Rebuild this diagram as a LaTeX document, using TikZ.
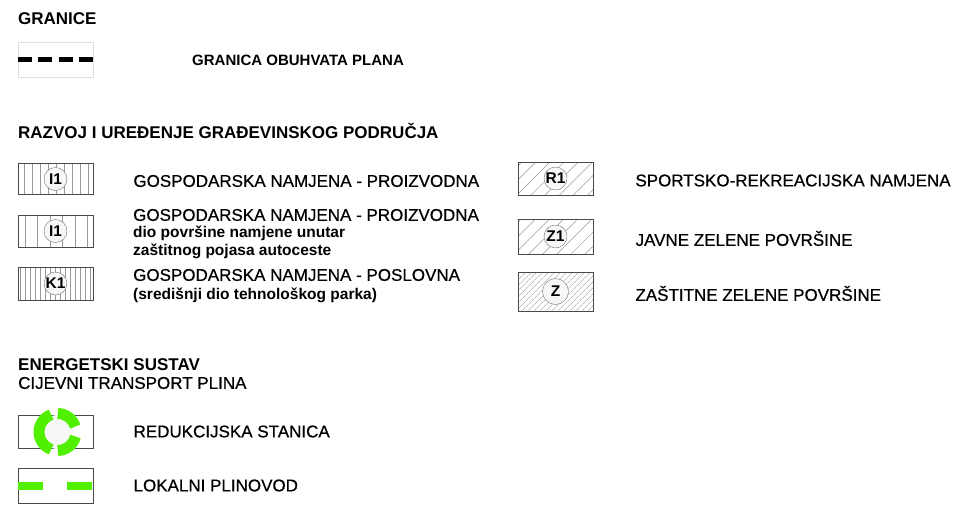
\documentclass[tikz,border=0pt]{standalone}
\usepackage{fontspec}
\setmainfont{Liberation Sans}
\newfontfamily\teski{Liberation Sans}[FakeBold=0.6]
\usepackage{tikz}
\usetikzlibrary{patterns.meta,positioning}
\definecolor{plin}{HTML}{50F000}
\definecolor{rub}{HTML}{4A4A4A}

\begin{document}
\begin{tikzpicture}[x=1pt,y=-1pt,
    box/.style={draw=rub,line width=0.8pt,minimum width=75pt,minimum height=31pt,inner sep=0pt},
    vert/.style={box,pattern={Lines[angle=90,distance=#1,line width=0.5pt]},pattern color=black!40},
    kos/.style={box,pattern={Lines[angle=45,distance=#1,line width=0.5pt]},pattern color=black!40},
    oznaka/.style={circle,draw=black!55,fill=black!3,minimum size=23pt,inner sep=0pt,
                   font=\bfseries\fontsize{15.5}{15.5}\selectfont},
    naslov/.style={anchor=west,inner sep=0pt,font=\bfseries\fontsize{17}{17}\selectfont},
    opis/.style={anchor=west,inner sep=0pt,font=\teski\fontsize{17}{17}\selectfont},
    opisb/.style={anchor=west,inner sep=0pt,font=\bfseries\fontsize{15.5}{15.5}\selectfont}
  ]
    \useasboundingbox (0,0) rectangle (968,514);
    % granice
    \node[naslov] (h-gr) at (18,19) {GRANICE};
    \node[box,draw=black!12,minimum height=35pt] (gr) at (55.5,59.5) {};
    \draw[line width=5pt,dash pattern=on 14pt off 6.5pt] (gr.west) -- (gr.east);
    \node[naslov,font=\bfseries\fontsize{15}{15}\selectfont] (t-gr) at (192,60) {GRANICA OBUHVATA PLANA};
    % gradjevinsko podrucje
    \node[naslov] (h-raz) at (18,131) {RAZVOJ I UREĐENJE GRAĐEVINSKOG PODRUČJA};
    \node[vert=8pt] (i1a) at (55.5,179) {};
    \node[oznaka] (o-i1a) at (i1a) {I1};
    \node[opis,right=40pt of i1a.east,yshift=-2pt] (t-i1a) {GOSPODARSKA NAMJENA - PROIZVODNA};
    \node[vert=12.5pt,minimum height=32pt] (i1b) at (55.5,231) {};
    \node[oznaka] (o-i1b) at (i1b) {I1};
    \node[opis] (t-i1b) at (133,215) {GOSPODARSKA NAMJENA - PROIZVODNA};
    \node[opisb] (t-i1b2) at (133,233) {dio površine namjene unutar};
    \node[opisb] (t-i1b3) at (133,251) {zaštitnog pojasa autoceste};
    \node[vert=5pt,minimum height=33pt] (k1) at (55.5,283.5) {};
    \node[oznaka] (o-k1) at (k1) {K1};
    \node[opis] (t-k1) at (133,275) {GOSPODARSKA NAMJENA - POSLOVNA};
    \node[opisb] (t-k12) at (133,295) {(središnji dio tehnološkog parka)};
    \node[kos=10pt,minimum height=33pt] (r1) at (555.5,178.5) {};
    \node[oznaka] (o-r1) at (r1) {R1};
    \node[opis,right=42pt of r1.east,yshift=-2pt] (t-r1) {SPORTSKO-REKREACIJSKA NAMJENA};
    \node[kos=10pt,minimum height=35pt] (z1) at (555.5,236.5) {};
    \node[oznaka] (o-z1) at (z1) {Z1};
    \node[opis,right=42pt of z1.east,yshift=-2pt] (t-z1) {JAVNE ZELENE POVRŠINE};
    \node[kos=4pt,minimum height=39pt] (z) at (555.5,291.5) {};
    \node[oznaka,minimum size=26pt] (o-z) at (z) {Z};
    \node[opis,right=42pt of z.east,yshift=-2pt] (t-z) {ZAŠTITNE ZELENE POVRŠINE};
    % energetski sustav
    \node[naslov] (h-en) at (18,365) {ENERGETSKI SUSTAV};
    \node[opis] (h-cij) at (18,383) {CIJEVNI TRANSPORT PLINA};
    \node[box,minimum height=33pt] (rs) at (55.5,431.5) {};
    \coordinate (rs-c) at (57.5,432);
    \fill[black!3] (rs-c) circle[radius=17];
    \draw[plin,line width=11pt] ([shift={(110:18.5)}]rs-c) arc[start angle=110,end angle=250,radius=18.5];
    \draw[plin,line width=11pt] ([shift={(89:18.5)}]rs-c) arc[start angle=89,end angle=14,radius=18.5];
    \draw[plin,line width=11pt] ([shift={(-17:18.5)}]rs-c) arc[start angle=-17,end angle=-89,radius=18.5];
    \node[opis,right=40pt of rs.east] (t-rs) {REDUKCIJSKA STANICA};
    \node[box,minimum height=35pt] (lp) at (55.5,485.5) {};
    \draw[plin,line width=8pt,dash pattern=on 25pt off 24pt] (lp.west) -- (lp.east);
    \node[opis,right=40pt of lp.east] (t-lp) {LOKALNI PLINOVOD};
\end{tikzpicture}
\end{document}
